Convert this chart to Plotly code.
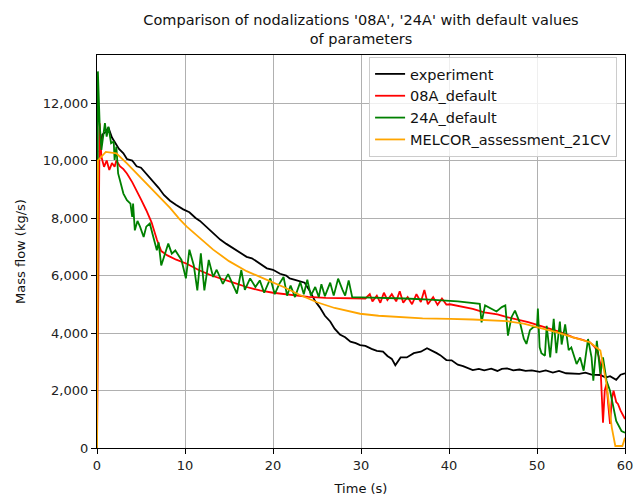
import plotly.graph_objects as go

# --- experiment (measured mass flow) ---
exp_t = [0.3, 0.6, 1.0, 1.3, 1.7, 2.0, 2.5, 3.0, 3.4, 4.0, 4.5, 5.0, 5.6, 6.2, 7.0, 7.6, 8.3,
         9.0, 9.8, 10.5, 11.2, 11.7, 12.4, 13.2, 14.0, 14.7, 15.5, 16.2, 17.0, 17.6, 18.3, 19.3,
         20.0, 20.8, 21.5, 21.9, 22.5, 23.0, 23.6, 24.2, 24.8, 25.3, 25.9, 26.5, 27.0, 27.6,
         28.2, 28.8, 29.4, 29.9, 30.5, 31.2, 31.8, 32.5, 33.0, 33.5, 33.9, 34.5, 35.2, 36.0,
         36.8, 37.5, 38.0, 38.6, 39.0, 39.7, 40.3, 41.0, 41.6, 42.2, 42.7, 43.4, 44.0, 44.8,
         45.5, 46.0, 46.6, 47.3, 48.0, 48.7, 49.4, 50.3, 51.0, 51.8, 52.5, 53.3, 54.1, 54.8,
         55.5, 56.2, 57.2, 57.8, 58.3, 59.0, 59.5, 60.0]
exp_v = [10300, 10900, 11000, 11150, 10800, 10650, 10400, 10250, 10050, 10000, 9800, 9750,
         9550, 9350, 9050, 8800, 8600, 8450, 8300, 8200, 8000, 7900, 7700, 7450, 7250, 7100,
         6950, 6800, 6650, 6600, 6450, 6250, 6200, 6060, 6000, 5900, 5850, 5800, 5750, 5450,
         5100, 4900, 4600, 4400, 4150, 3950, 3850, 3700, 3650, 3580, 3550, 3450, 3380, 3350,
         3200, 3100, 2880, 3150, 3150, 3300, 3350, 3470, 3400, 3300, 3230, 3060, 3050, 2900,
         2850, 2780, 2710, 2750, 2700, 2760, 2680, 2750, 2770, 2700, 2730, 2680, 2700, 2650,
         2700, 2620, 2680, 2600, 2600, 2580, 2620, 2550, 2540, 2450, 2500, 2370, 2550, 2600]

# --- nodalization 08A, default parameters ---
r08_t = [0, 0.3, 0.5, 0.8, 1.1, 1.4, 1.7, 2.0, 2.2, 2.6, 3.0, 3.4, 4.0, 4.5, 5.0, 5.6, 6.2,
         6.8, 7.3, 8.0, 9.0, 10.2, 11.5, 13.0, 14.0, 15.5, 17.0, 18.5, 20.0, 22.0, 24.0, 26.0,
         28.0, 30.0, 30.5, 31.0, 31.3, 31.8, 32.2, 32.6, 33.0, 33.5, 34.0, 34.4, 34.8, 35.3,
         35.8, 36.3, 36.8, 37.2, 37.6, 38.2, 38.7, 39.2, 39.7, 40.1, 41.0, 42.7, 44.0, 45.5,
         46.6, 48.0, 49.0, 50.3, 51.5, 52.5, 53.3, 54.1, 55.0, 56.0, 56.6, 57.0, 57.2, 57.4,
         57.5, 57.7, 57.9, 58.1, 58.3, 58.5, 58.7, 59.0, 59.2, 59.5, 59.7, 60.0]
r08_v = [0, 11300, 10130, 9780, 10000, 9670, 9910, 9780, 10000, 9800, 9700, 9550, 9250, 8970,
         8650, 8270, 7850, 7250, 6850, 6700, 6550, 6410, 6200, 6000, 5890, 5750, 5600, 5480,
         5400, 5320, 5260, 5220, 5200, 5190, 5200, 5350, 5100, 5300, 5050, 5400, 5150, 5350,
         5100, 5450, 5050, 5250, 5000, 5350, 5080, 5500, 5000, 5250, 4980, 5200, 4990, 5000,
         4950, 4840, 4720, 4650, 4550, 4450, 4380, 4260, 4150, 4050, 3950, 3850, 3780, 3680,
         3500, 3200, 2930, 1800, 880, 2000, 2230, 1500, 840, 1700, 1990, 1600, 1530, 1300,
         1200, 1010]

# --- nodalization 24A, default parameters ---
r24_t = [0, 0.1, 0.3, 0.5, 0.9, 1.1, 1.3, 1.6, 1.9, 2.0, 2.2, 2.4, 2.6, 3.0, 3.4, 3.8, 4.0,
         4.1, 4.3, 4.6, 4.9, 5.3, 5.6, 6.0, 6.4, 6.8, 7.0, 7.3, 8.1, 8.5, 8.9, 9.6, 10.1, 10.5,
         11.0, 11.4, 11.8, 12.2, 12.7, 13.2, 13.6, 14.3, 14.9, 15.4, 15.9, 16.4, 16.8, 17.4,
         18.0, 18.5, 19.0, 19.7, 20.2, 20.7, 21.2, 21.6, 22.0, 22.5, 23.1, 23.5, 23.9, 24.3,
         24.8, 25.2, 25.5, 25.9, 26.5, 26.9, 27.4, 27.9, 28.2, 28.6, 29.0, 30.0, 32.0, 35.0,
         37.8, 39.4, 41.0, 43.5, 43.7, 44.1, 44.7, 45.4, 46.0, 46.4, 46.7, 47.1, 47.5, 48.1,
         48.5, 48.8, 49.2, 49.6, 50.0, 50.1, 50.3, 50.5, 50.9, 51.1, 51.5, 51.9, 52.2, 52.6,
         52.8, 53.2, 53.6, 53.9, 54.5, 54.9, 55.3, 55.6, 55.8, 56.2, 56.4, 56.8, 57.2, 57.5,
         57.9, 58.3, 58.7, 59.0, 59.6, 60.0]
r24_v = [0, 13100, 11300, 10370, 11300, 10830, 11180, 10600, 10660, 10020, 10480, 9550, 9320,
         8850, 8620, 8500, 8040, 8500, 7570, 7900, 7690, 7340, 7700, 7810, 7340, 6880, 7150,
         6350, 7110, 6760, 6870, 6540, 5900, 6900, 6350, 5480, 6770, 5480, 6540, 5950, 6200,
         5710, 6050, 5700, 5370, 6190, 5500, 5900, 5600, 5830, 5400, 5900, 5350, 5700, 5950,
         5300, 5650, 5250, 5770, 5350, 5850, 5300, 5600, 5250, 5700, 5280, 5750, 5300, 5890,
         5500, 5300, 5830, 5250, 5240, 5230, 5200, 5160, 5130, 5100, 5015, 4370, 4960, 4850,
         4750, 4900, 4960, 3910, 4550, 4780, 4320, 3800, 3620, 4100, 4210, 4200, 4850, 3500,
         3300, 3210, 4250, 3150, 4490, 3300, 4400, 3600, 4300, 3400, 3500, 2920, 3150, 2690,
         3390, 3790, 3150, 2340, 3730, 2570, 3150, 2340, 1990, 1410, 940, 590, 530]

# --- MELCOR assessment, 21 control volumes ---
mel_t = [0, 0.1, 1.0, 2.2, 3.4, 4.5, 5.6, 7.0, 8.3, 9.4, 10.2, 11.7, 13.2, 15.0, 17.0, 19.3,
         21.2, 23.0, 25.0, 27.0, 29.9, 32.0, 34.4, 37.0, 40.1, 42.7, 46.6, 48.5, 50.3, 52.2,
         54.1, 56.0, 57.2, 57.9, 58.5, 58.9, 59.7, 60.0]
mel_v = [0, 10000, 10300, 10250, 9900, 9550, 9200, 8750, 8350, 7950, 7700, 7300, 6900, 6500,
         6150, 5850, 5600, 5330, 5070, 4870, 4670, 4600, 4550, 4510, 4490, 4470, 4410, 4330,
         4180, 4030, 3850, 3680, 3390, 2220, 710, 70, 70, 360]

x_ticks = [0, 10, 20, 30, 40, 50, 60]
y_ticks = [0, 2000, 4000, 6000, 8000, 10000, 12000]

series = [
    ("experiment", exp_t, exp_v, "black"),
    ("08A_default", r08_t, r08_v, "#ff0000"),
    ("24A_default", r24_t, r24_v, "#008000"),
    ("MELCOR_assessment_21CV", mel_t, mel_v, "#ffa500"),
]

fig = go.Figure()
for name, t, v, color in series:
    fig.add_trace(go.Scatter(x=t, y=v, mode="lines", name=name,
                             line=dict(color=color, width=1.8)))

font = "DejaVu Sans, sans-serif"
axis_common = dict(
    showline=True, linecolor="black", linewidth=1.2, mirror=True,
    showgrid=True, gridcolor="#b0b0b0", gridwidth=1,
    ticks="outside", ticklen=5, tickcolor="black",
    tickfont=dict(family=font, size=13, color="#222"),
    zeroline=False, automargin=False,
)

fig.update_layout(
    width=635, height=496,
    margin=dict(l=97, r=10, t=55, b=48),
    paper_bgcolor="white", plot_bgcolor="white",
    title=dict(
        text="Comparison of nodalizations '08A', '24A' with default values<br>of parameters",
        x=0.5, xref="paper", xanchor="center",
        y=1, yref="paper", yanchor="bottom", pad=dict(b=30),
        font=dict(family=font, size=14.5, color="#111"),
    ),
    xaxis=dict(range=[0, 60], tickvals=x_ticks,
               title=dict(text="Time (s)", font=dict(family=font, size=13, color="#111"), standoff=12),
               **axis_common),
    yaxis=dict(range=[0, 13670], tickvals=y_ticks, tickformat=",d",
               title=dict(text="Mass flow (kg/s)", font=dict(family=font, size=13, color="#111"), standoff=14),
               **axis_common),
    legend=dict(x=0.985, y=0.995, xanchor="right", yanchor="top",
                bgcolor="rgba(255,255,255,0.8)", bordercolor="#cccccc", borderwidth=1,
                font=dict(family=font, size=14.5, color="#111"),
                itemwidth=30, tracegroupgap=0),
    showlegend=True,
)

fig.write_html("out.html")
